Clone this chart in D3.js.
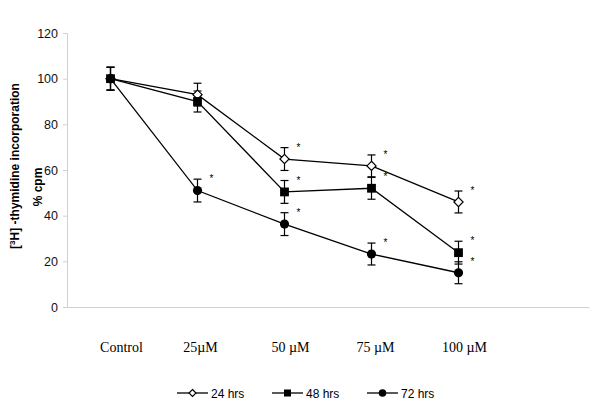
<!DOCTYPE html>
<html><head><meta charset="utf-8">
<script src="https://cdn.jsdelivr.net/npm/d3@7"></script>
<style>body{margin:0;background:#fff}svg{display:block}</style>
</head><body>
<svg id="c" width="600" height="417"></svg>
<script>
const categories = ["Control", "25\u00b5M", "50 \u00b5M", "75 \u00b5M", "100 \u00b5M", ""];
const labelShift = [11, 3, 6, 4, 6, 0];
const yTicks = [0, 20, 40, 60, 80, 100, 120];
const seriesNames = ["24 hrs", "48 hrs", "72 hrs"];
const vals24 = [100, 93, 64.8, 61.8, 46];
const vals48 = [100, 90, 50.4, 52, 23.8];
const vals72 = [100, 51, 36.3, 23.2, 15];
const err24 = [5, 5, 5, 4.8, 4.8];
const err48 = [5, 4.6, 5, 4.8, 5];
const err72 = [5, 5, 5, 4.8, 4.8];
const sig24 = [false, false, true, true, true];
const sig48 = [false, false, true, true, true];
const sig72 = [false, true, true, true, true];

const series = [
  {name: seriesNames[0], vals: vals24, err: err24, sig: sig24, marker: "diamond"},
  {name: seriesNames[1], vals: vals48, err: err48, sig: sig48, marker: "square"},
  {name: seriesNames[2], vals: vals72, err: err72, sig: sig72, marker: "circle"}
];

const svg = d3.select("#c");
const x = d3.scaleBand().domain(categories.map((c,i)=>i)).range([67, 589]);
const y = d3.scaleLinear().domain([0, 120]).range([307, 33]);
const cx = i => x(i) + x.bandwidth()/2;

// axes
const yAxis = svg.append("g").attr("transform", "translate(67,0)")
  .call(d3.axisLeft(y).tickValues(yTicks).tickSize(4).tickPadding(5));
yAxis.select(".domain").attr("stroke", "#d0d0d0");
yAxis.selectAll(".tick line").attr("stroke", "#d0d0d0");
yAxis.selectAll(".tick text").attr("font-family", "Liberation Sans, Arial, sans-serif").attr("font-size", 12.5).attr("fill", "#111");

const xAxis = svg.append("g").attr("transform", "translate(0,307)")
  .call(d3.axisBottom(x).tickSize(0).tickFormat(i => categories[i]));
xAxis.select(".domain").attr("stroke", "#d0d0d0");
xAxis.selectAll(".tick text")
  .attr("font-family", "Liberation Serif, Times New Roman, serif").attr("font-size", 14).attr("fill", "#000")
  .attr("dy", 0).attr("y", 45).attr("dx", (d) => labelShift[d]);

// y title
svg.append("text").attr("transform", "translate(19,166) rotate(-90)")
  .attr("text-anchor", "middle").attr("font-family", "Liberation Sans, Arial, sans-serif")
  .attr("font-weight", "bold").attr("font-size", 12)
  .html('[<tspan baseline-shift="super" font-size="8">3</tspan>H] -thymidine incorporation');
svg.append("text").attr("transform", "translate(42,187) rotate(-90)")
  .attr("text-anchor", "middle").attr("font-family", "Liberation Sans, Arial, sans-serif")
  .attr("font-weight", "bold").attr("font-size", 12).text("% cpm");

function drawMarker(g, type, px, py, s) {
  if (type === "diamond") {
    g.append("path").attr("d", `M${px},${py-s}L${px+s},${py}L${px},${py+s}L${px-s},${py}Z`)
      .attr("fill", "#fff").attr("stroke", "#000").attr("stroke-width", 1.2);
  } else if (type === "square") {
    g.append("rect").attr("x", px-s).attr("y", py-s).attr("width", 2*s).attr("height", 2*s).attr("fill", "#000");
  } else {
    g.append("circle").attr("cx", px).attr("cy", py).attr("r", s).attr("fill", "#000");
  }
}

const line = d3.line().x((d,i)=>cx(i)).y(d=>y(d));
const plot = svg.append("g");
series.forEach(s => {
  plot.append("path").datum(s.vals).attr("d", line).attr("fill", "none")
    .attr("stroke", "#000").attr("stroke-width", 1.3);
});
series.forEach(s => {
  s.vals.forEach((v,i) => {
    const px = cx(i), t = y(v + s.err[i]), b = y(v - s.err[i]);
    plot.append("line").attr("x1", px).attr("x2", px).attr("y1", t).attr("y2", b).attr("stroke", "#000").attr("stroke-width", 1.2);
    [t, b].forEach(yy => plot.append("line").attr("x1", px-4).attr("x2", px+4).attr("y1", yy).attr("y2", yy).attr("stroke", "#000").attr("stroke-width", 1.2));
    if (s.sig[i]) {
      plot.append("text").attr("x", px+14).attr("y", t+3).attr("text-anchor", "middle")
        .attr("font-family", "Liberation Sans, Arial, sans-serif").attr("font-size", 10).text("*");
    }
  });
});
const mSize = {diamond: 4.6, square: 4.4, circle: 4.6};
series.forEach(s => {
  s.vals.forEach((v,i) => drawMarker(plot, s.marker, cx(i), y(v), mSize[s.marker]));
});

// legend
const legX = [177, 272, 367];
const lSize = {diamond: 3.5, square: 3.5, circle: 3.8};
series.forEach((s, k) => {
  const g = svg.append("g");
  const lx = legX[k], ly = 393;
  g.append("line").attr("x1", lx).attr("x2", lx+31).attr("y1", ly).attr("y2", ly).attr("stroke", "#000").attr("stroke-width", 1.3);
  drawMarker(g, s.marker, lx+15.5, ly, lSize[s.marker]);
  g.append("text").attr("x", lx+34).attr("y", ly+4.5).attr("font-family", "Liberation Sans, Arial, sans-serif")
    .attr("font-size", 12).text(s.name);
});
</script>
</body></html>
